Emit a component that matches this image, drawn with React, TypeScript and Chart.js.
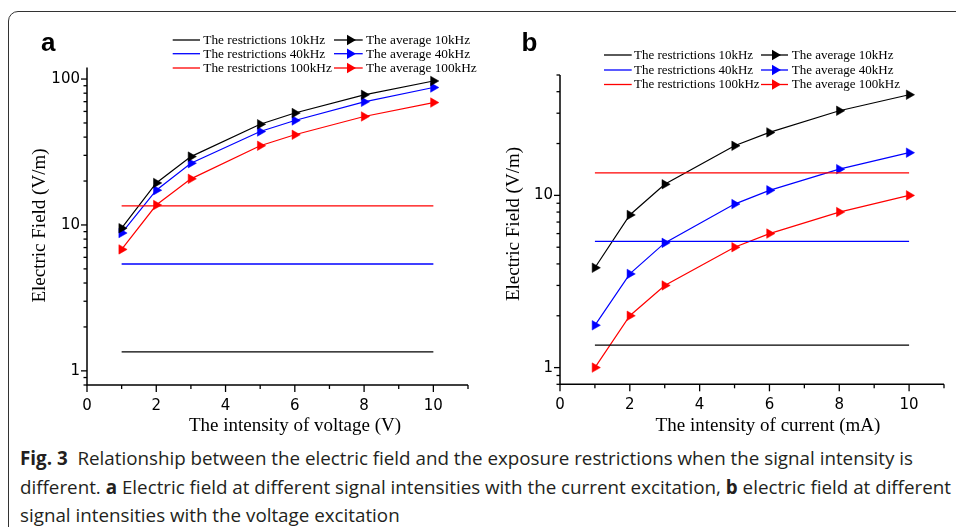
import React, { useEffect, useRef } from "react";
import { Chart, registerables } from "chart.js";

Chart.register(...registerables);

// ---------- data ----------
const xValues = [1, 2, 3, 5, 6, 8, 10];
const restrictionX = [1, 10];
const restriction10kHz = 1.35;
const restriction40kHz = 5.4;
const restriction100kHz = 13.5;

// panel a: current excitation, x = intensity of voltage (V)
const panelAAvg10kHz = [9.5, 19.4, 29.4, 49, 58.5, 78, 97];
const panelAAvg40kHz = [8.8, 17.3, 26.5, 43.7, 52, 69.8, 87.5];
const panelAAvg100kHz = [6.8, 13.7, 20.7, 34.9, 41.5, 55.4, 69];

// panel b: voltage excitation, x = intensity of current (mA)
const panelBAvg10kHz = [3.8, 7.7, 11.6, 19.4, 23.2, 31, 38.4];
const panelBAvg40kHz = [1.76, 3.5, 5.3, 8.9, 10.7, 14.2, 17.7];
const panelBAvg100kHz = [1, 2, 3, 5, 6, 8, 10];

const seriesLabels = [
  "The restrictions 10kHz",
  "The restrictions 40kHz",
  "The restrictions 100kHz",
  "The average 10kHz",
  "The average 40kHz",
  "The average 100kHz",
];
const seriesColors = ["#000000", "#0000ff", "#ff0000"];

const xTickValues = [0, 1, 2, 3, 4, 5, 6, 7, 8, 9, 10, 11];
const xTickLabels = [0, 2, 4, 6, 8, 10];
const yTickValuesA = [0.8, 0.9, 1, 2, 3, 4, 5, 6, 7, 8, 9, 10, 20, 30, 40, 50, 60, 70, 80, 90, 100];
const yTickLabelsA = [1, 10, 100];
const yTickValuesB = [0.8, 0.9, 1, 2, 3, 4, 5, 6, 7, 8, 9, 10, 20, 30, 40, 50];
const yTickLabelsB = [1, 10];

const xTitleA = "The intensity of voltage (V)";
const xTitleB = "The intensity of current (mA)";
const yTitle = "Electric Field (V/m)";

// ---------- panel layout ----------
type PanelCfg = {
  label: string;
  left: number;
  width: number;
  height: number;
  area: { left: number; right: number; top: number; bottom: number };
  yMin: number;
  yMax: number;
  yTicks: number[];
  yLabels: number[];
  avg: number[][];
  xTitle: string;
  xTitlePos: [number, number];
  yTitlePos: [number, number];
  labelPos: [number, number];
  legend: {
    c1: [number, number];
    t1: number;
    c2: [number, number];
    m2: number;
    t2: number;
    rows: number[];
    font: number;
  };
};

const panels: PanelCfg[] = [
  {
    label: "a",
    left: 0,
    width: 480,
    height: 440,
    area: { left: 87, right: 477.5, top: 67.5, bottom: 385 },
    yMin: 0.8,
    yMax: 120,
    yTicks: yTickValuesA,
    yLabels: yTickLabelsA,
    avg: [panelAAvg10kHz, panelAAvg40kHz, panelAAvg100kHz],
    xTitle: xTitleA,
    xTitlePos: [295, 426.5],
    yTitlePos: [40.5, 225.5],
    labelPos: [41, 50.5],
    legend: { c1: [172.7, 200], t1: 203.3, c2: [334, 362.7], m2: 350, t2: 366, rows: [40, 53.7, 68], font: 13.3 },
  },
  {
    label: "b",
    left: 480,
    width: 476,
    height: 440,
    area: { left: 80, right: 465.8, top: 75, bottom: 384.3 },
    yMin: 0.8,
    yMax: 50,
    yTicks: yTickValuesB,
    yLabels: yTickLabelsB,
    avg: [panelBAvg10kHz, panelBAvg40kHz, panelBAvg100kHz],
    xTitle: xTitleB,
    xTitlePos: [288, 426.5],
    yTitlePos: [34, 224],
    labelPos: [41.5, 50.5],
    legend: { c1: [124, 151.7], t1: 154, c2: [281, 308], m2: 295, t2: 311.7, rows: [55, 70, 84.5], font: 13 },
  },
];

function drawTriangleRight(ctx: CanvasRenderingContext2D, x: number, y: number, r: number, color: string) {
  ctx.save();
  ctx.fillStyle = color;
  ctx.beginPath();
  ctx.moveTo(x + r, y);
  ctx.lineTo(x - r * 0.5, y - r * 0.866);
  ctx.lineTo(x - r * 0.5, y + r * 0.866);
  ctx.closePath();
  ctx.fill();
  ctx.restore();
}

const decorPlugin = {
  id: "decor",
  afterDraw(chart: any, _args: any, opts: any) {
    const cfg: PanelCfg = opts.cfg;
    const { ctx } = chart;
    const { left, right, top, bottom } = chart.chartArea;
    const xs = chart.scales.x;
    const ys = chart.scales.y;
    ctx.save();
    ctx.strokeStyle = "#000";
    ctx.lineWidth = 1.5;
    ctx.beginPath();
    ctx.moveTo(left, top);
    ctx.lineTo(left, bottom);
    ctx.lineTo(right, bottom);
    ctx.stroke();

    ctx.lineWidth = 1.3;
    ys.ticks.forEach((t: any) => {
      const py = ys.getPixelForValue(t.value);
      const len = cfg.yLabels.includes(t.value) ? 6 : 3.5;
      ctx.beginPath();
      ctx.moveTo(left - len, py);
      ctx.lineTo(left, py);
      ctx.stroke();
    });
    xs.ticks.forEach((t: any) => {
      const px = xs.getPixelForValue(t.value);
      const len = xTickLabels.includes(t.value) ? 7 : 4;
      ctx.beginPath();
      ctx.moveTo(px, bottom);
      ctx.lineTo(px, bottom + len);
      ctx.stroke();
    });

    // axis titles
    ctx.fillStyle = "#000";
    ctx.font = "19px 'Liberation Serif', serif";
    ctx.textAlign = "center";
    ctx.textBaseline = "middle";
    ctx.fillText(cfg.xTitle, cfg.xTitlePos[0], cfg.xTitlePos[1]);
    ctx.save();
    ctx.translate(cfg.yTitlePos[0], cfg.yTitlePos[1]);
    ctx.rotate(-Math.PI / 2);
    ctx.fillText(yTitle, 0, 0);
    ctx.restore();

    // panel label
    ctx.font = "bold 26px 'Liberation Sans', Arial, sans-serif";
    ctx.textAlign = "left";
    ctx.textBaseline = "alphabetic";
    ctx.fillText(cfg.label, cfg.labelPos[0], cfg.labelPos[1]);

    // legend
    const lg = cfg.legend;
    ctx.font = `${lg.font}px 'Liberation Serif', serif`;
    ctx.textBaseline = "middle";
    chart.data.datasets.forEach((ds: any, i: number) => {
      const row = i % 3;
      const col = Math.floor(i / 3);
      const y = lg.rows[row];
      const seg = col === 0 ? lg.c1 : lg.c2;
      ctx.strokeStyle = ds.borderColor;
      ctx.lineWidth = 1.3;
      ctx.beginPath();
      ctx.moveTo(seg[0], y);
      ctx.lineTo(seg[1], y);
      ctx.stroke();
      if (col === 1) drawTriangleRight(ctx, lg.m2, y, 6, ds.borderColor);
      ctx.fillStyle = "#000";
      ctx.fillText(ds.label, col === 0 ? lg.t1 : lg.t2, y + 0.5);
    });
    ctx.restore();
  },
};

function Panel({ cfg }: { cfg: PanelCfg }) {
  const ref = useRef<HTMLCanvasElement | null>(null);
  useEffect(() => {
    if (!ref.current) return;
    const restrictions = [restriction10kHz, restriction40kHz, restriction100kHz];
    const datasets: any[] = [];
    restrictions.forEach((v, i) => {
      datasets.push({
        label: seriesLabels[i],
        data: restrictionX.map((x) => ({ x, y: v })),
        borderColor: seriesColors[i],
        backgroundColor: seriesColors[i],
        borderWidth: 1.3,
        pointRadius: 0,
        showLine: true,
        tension: 0,
      });
    });
    cfg.avg.forEach((arr, i) => {
      datasets.push({
        label: seriesLabels[i + 3],
        data: xValues.map((x, j) => ({ x, y: arr[j] })),
        borderColor: seriesColors[i],
        backgroundColor: seriesColors[i],
        borderWidth: 1.2,
        pointStyle: "triangle",
        rotation: 90,
        pointRadius: 5.5,
        pointBorderWidth: 0.5,
        showLine: true,
        tension: 0,
      });
    });
    const chart = new Chart(ref.current, {
      type: "line",
      data: { datasets },
      plugins: [decorPlugin],
      options: {
        animation: false,
        responsive: false,
        maintainAspectRatio: false,
        layout: {
          padding: {
            left: 0,
            top: cfg.area.top,
            right: cfg.width - cfg.area.right,
            bottom: 0,
          },
        },
        plugins: {
          legend: { display: false },
          tooltip: { enabled: false },
          decor: { cfg },
        } as any,
        scales: {
          x: {
            type: "linear",
            min: 0,
            max: 11,
            grid: { display: false, drawTicks: false },
            border: { display: false },
            afterBuildTicks: (s: any) => {
              s.ticks = xTickValues.map((v) => ({ value: v }));
            },
            afterFit: (s: any) => {
              s.height = cfg.height - cfg.area.bottom;
            },
            ticks: {
              autoSkip: false,
              maxRotation: 0,
              padding: 12,
              color: "#000",
              font: { family: "'DejaVu Sans', sans-serif", size: 15 },
              callback: (v: any) => (xTickLabels.includes(Number(v)) ? String(v) : ""),
            },
          },
          y: {
            type: "logarithmic",
            min: cfg.yMin,
            max: cfg.yMax,
            grid: { display: false, drawTicks: false },
            border: { display: false },
            afterBuildTicks: (s: any) => {
              s.ticks = cfg.yTicks.map((v) => ({ value: v }));
            },
            afterFit: (s: any) => {
              s.width = cfg.area.left;
            },
            ticks: {
              autoSkip: false,
              padding: 7,
              color: "#000",
              font: { family: "'DejaVu Sans', sans-serif", size: 15 },
              callback: (v: any) => (cfg.yLabels.includes(Number(v)) ? String(v) : ""),
            },
          },
        },
      } as any,
    });
    return () => chart.destroy();
  }, [cfg]);
  return (
    <canvas
      ref={ref}
      width={cfg.width}
      height={cfg.height}
      style={{ position: "absolute", left: cfg.left, top: 0, width: cfg.width, height: cfg.height }}
    />
  );
}

export default function App() {
  const captionStyle: React.CSSProperties = {
    position: "absolute",
    left: 20,
    whiteSpace: "nowrap",
    fontFamily: "'Open Sans', sans-serif",
    fontSize: 18.8,
    lineHeight: "28px",
    color: "#231f20",
  };
  return (
    <div
      style={{
        position: "fixed",
        left: 0,
        top: 0,
        width: 956,
        height: 527,
        overflow: "hidden",
        background: "#fff",
      }}
    >
      <div
        style={{
          position: "absolute",
          left: 8,
          top: 11,
          width: 1000,
          height: 700,
          border: "1.3px solid #333",
          borderRadius: 10,
          boxSizing: "border-box",
        }}
      />
      {panels.map((p) => (
        <Panel key={p.label} cfg={p} />
      ))}
      <div style={{ ...captionStyle, top: 444 }}>
        <b>Fig. 3</b>&nbsp;&nbsp;Relationship between the electric field and the exposure restrictions when the signal intensity is
      </div>
      <div style={{ ...captionStyle, top: 472.5 }}>
        different. <b>a</b> Electric field at different signal intensities with the current excitation, <b>b</b> electric field at different
      </div>
      <div style={{ ...captionStyle, top: 501 }}>signal intensities with the voltage excitation</div>
    </div>
  );
}
